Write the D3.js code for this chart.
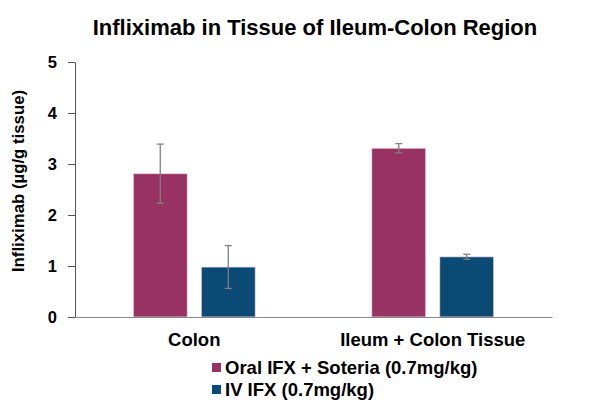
<!DOCTYPE html>
<html><head><meta charset="utf-8">
<script src="https://cdn.jsdelivr.net/npm/d3@7"></script>
<style>body{margin:0;background:#fff}svg{display:block;font-family:"Liberation Sans",Arial,sans-serif}</style>
</head><body><svg id="c" width="605" height="412"></svg>
<script>
const categories = ["Colon", "Ileum + Colon Tissue"];
const seriesNames = ["Oral IFX + Soteria (0.7mg/kg)", "IV IFX (0.7mg/kg)"];
const oralValues = [2.81, 3.31];
const oralErrors = [0.58, 0.09];
const ivValues = [0.98, 1.18];
const ivErrors = [0.42, 0.05];
const yTicks = [0, 1, 2, 3, 4, 5];
const colors = ["#983262", "#0b4a74"];

const svg = d3.select("#c");
const m = {l: 75, r: 53, t: 62, b: 95};
const W = 605, H = 412;
const x0 = d3.scaleBand().domain(categories).range([m.l, W - m.r]).paddingInner(0).paddingOuter(0);
const x1 = d3.scaleBand().domain(seriesNames).range([0, x0.bandwidth()]).paddingInner(0.206).paddingOuter(0.857);
const y = d3.scaleLinear().domain([0, 5]).range([H - m.b, m.t]);

svg.append("text").attr("x", 315).attr("y", 35).attr("text-anchor", "middle")
  .attr("font-size", 22).attr("font-weight", "bold").text("Infliximab in Tissue of Ileum-Colon Region");

const yAxis = svg.append("g").attr("transform", `translate(${m.l},0)`)
  .call(d3.axisLeft(y).tickValues(yTicks).tickFormat(d3.format("d")).tickSize(7).tickSizeOuter(0));
yAxis.select(".domain").attr("stroke", "#555");
yAxis.selectAll(".tick line").attr("stroke", "#555");
yAxis.selectAll(".tick text").attr("font-size", 16.5).attr("font-weight", "bold").attr("fill", "#000")
  .attr("font-family", "Liberation Sans, Arial, sans-serif").attr("x", -18);

svg.append("text").attr("transform", `translate(24,181) rotate(-90)`).attr("text-anchor", "middle")
  .attr("font-size", 16.8).attr("font-weight", "bold").text("Infliximab (µg/g tissue)");

const data = categories.map((c, i) => ({c, vals: [
  {s: seriesNames[0], v: oralValues[i], e: oralErrors[i], col: colors[0]},
  {s: seriesNames[1], v: ivValues[i], e: ivErrors[i], col: colors[1]}]}));

const g = svg.selectAll("g.grp").data(data).enter().append("g").attr("class", "grp")
  .attr("transform", d => `translate(${x0(d.c)},0)`);
g.selectAll("rect").data(d => d.vals).enter().append("rect")
  .attr("x", d => x1(d.s)).attr("width", x1.bandwidth())
  .attr("y", d => y(d.v)).attr("height", d => y(0) - y(d.v))
  .attr("fill", d => d.col).attr("stroke", "#f3dbe6").attr("stroke-width", 0.8);

const eb = g.selectAll("g.eb").data(d => d.vals).enter().append("g").attr("class", "eb")
  .attr("stroke", "#7f7f7f").attr("stroke-width", 1.3);
eb.append("line").attr("x1", d => x1(d.s) + x1.bandwidth() / 2).attr("x2", d => x1(d.s) + x1.bandwidth() / 2)
  .attr("y1", d => y(d.v + d.e)).attr("y2", d => y(d.v - d.e));
eb.append("line").attr("x1", d => x1(d.s) + x1.bandwidth() / 2 - 3.5).attr("x2", d => x1(d.s) + x1.bandwidth() / 2 + 3.5)
  .attr("y1", d => y(d.v + d.e)).attr("y2", d => y(d.v + d.e));
eb.append("line").attr("x1", d => x1(d.s) + x1.bandwidth() / 2 - 3.5).attr("x2", d => x1(d.s) + x1.bandwidth() / 2 + 3.5)
  .attr("y1", d => y(d.v - d.e)).attr("y2", d => y(d.v - d.e));

const xAxis = svg.append("g").attr("transform", `translate(0,${y(0)})`)
  .call(d3.axisBottom(x0).tickSize(0).tickSizeOuter(0));
xAxis.select(".domain").attr("stroke", "#888").attr("stroke-width", 1.2);
xAxis.selectAll(".tick text").attr("font-size", 18.5).attr("font-weight", "bold").attr("fill", "#000")
  .attr("font-family", "Liberation Sans, Arial, sans-serif").attr("dy", 0).attr("y", 29);

const leg = svg.selectAll("g.leg").data(seriesNames).enter().append("g").attr("class", "leg")
  .attr("transform", (d, i) => `translate(212,${374 + i * 22})`);
leg.append("rect").attr("x", 0).attr("y", -11).attr("width", 9).attr("height", 9).attr("fill", (d, i) => colors[i]);
leg.append("text").attr("x", 13).attr("y", 0).attr("font-size", 18.5).attr("font-weight", "bold").text(d => d);
</script></body></html>
